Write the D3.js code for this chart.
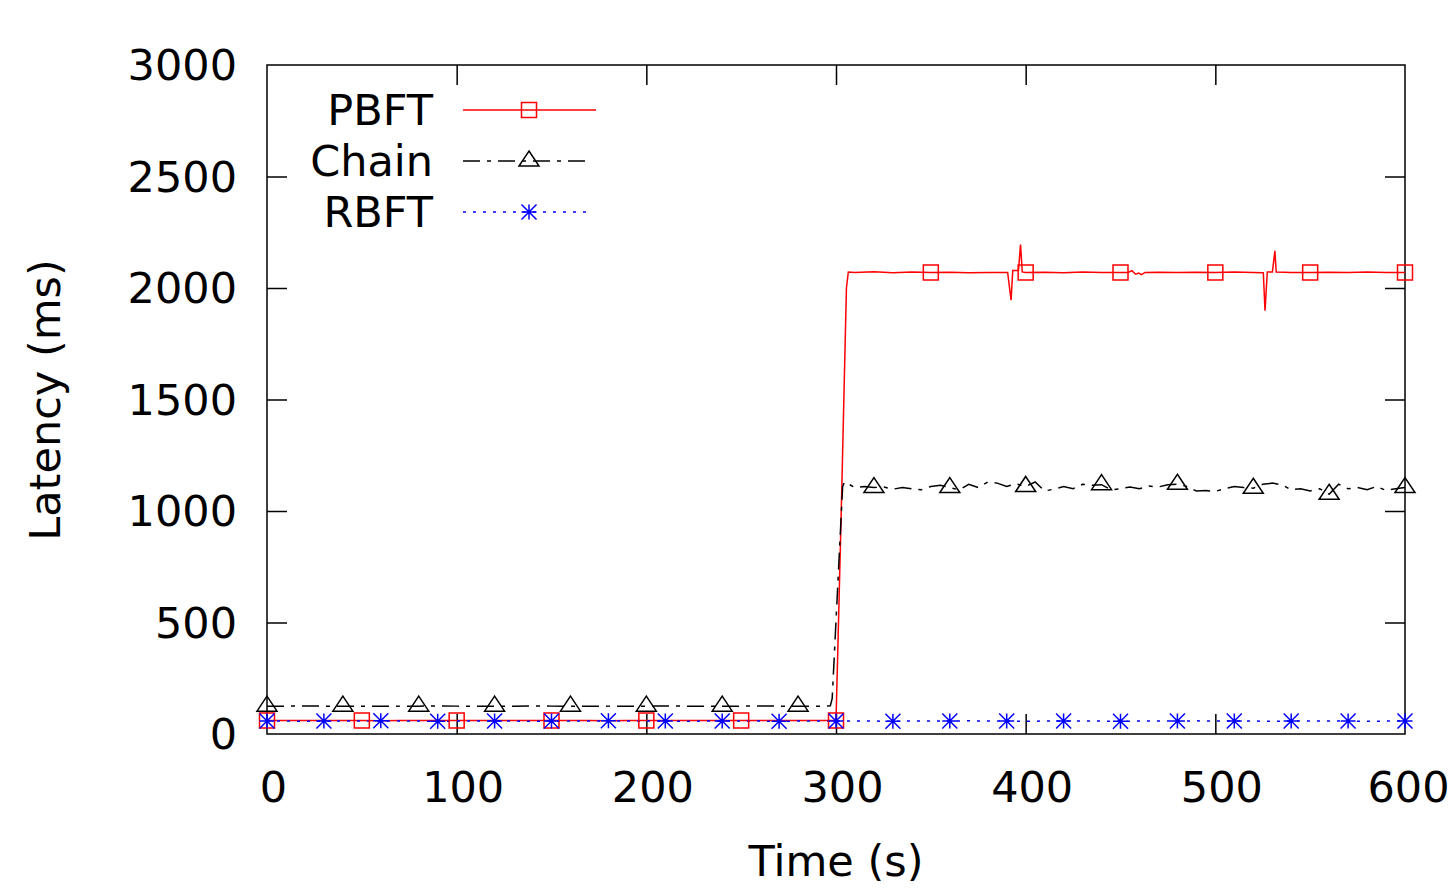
<!DOCTYPE html>
<html>
<head>
<meta charset="utf-8">
<script src="https://cdn.jsdelivr.net/npm/d3@7"></script>
<style>
  html, body { margin: 0; padding: 0; background: #fff; }
  svg { display: block; }
  text { font-family: "DejaVu Sans", sans-serif; fill: #000; }
</style>
</head>
<body>
<svg id="chart" width="1451" height="891"></svg>
<script>
// ---------------- data ----------------
const seriesNames = ["PBFT", "Chain", "RBFT"];
const xTicks = [0, 100, 200, 300, 400, 500, 600];
const yTicks = [0, 500, 1000, 1500, 2000, 2500, 3000];

const pbftTime = [0,10,20,30,40,50,60,70,80,90,100,110,120,130,140,150,160,170,180,190,200,210,220,230,240,250,260,270,280,290,300,
  301,303,305.5,306.5,310,320,330,340,350,360,370,380,390.5,392.3,393.2,396.2,397.3,398.2,400,410,420,430,440,450,454,456,458,459.5,461,463,
  470,480,490,500,510,520,525.3,526.2,527.4,530.1,531.4,532.1,540,550,560,570,580,590,600];
const pbftLatency = [60,60,61,60,60,60,59,60,60,61,60,60,60,60,61,60,60,60,59,60,60,60,61,60,60,60,60,61,60,60,60,
  390,1080,2000,2072,2070,2073,2068,2072,2070,2071,2068,2070,2070,1945,2078,2078,2195,2072,2070,2071,2068,2072,2070,2070,2070,2078,2062,2067,2060,2070,
  2071,2069,2071,2070,2072,2069,2068,1898,2072,2072,2167,2072,2070,2070,2071,2070,2072,2070,2070];

const chainTime = [0,10,20,30,40,50,60,70,80,90,100,110,120,130,140,150,160,170,180,190,200,210,220,230,240,250,260,270,280,290,295,297,298,
  303.5,304.5,305,310,315,320,325,330,335,340,345,350,355,360,365,370,375,380,385,390,395,400,405,410,415,420,425,430,435,440,445,450,
  455,460,465,470,475,480,485,490,495,500,505,510,515,520,525,530,535,540,545,550,555,560,565,570,575,580,585,590,595,600];
const chainLatency = [125,125,126,125,125,125,124,125,125,126,125,125,125,125,126,125,125,124,125,125,125,126,125,125,125,125,126,125,125,125,125,126,160,
  1110,1130,1128,1105,1110,1105,1108,1098,1105,1100,1095,1110,1115,1105,1095,1120,1105,1130,1125,1110,1122,1110,1130,1090,1098,1110,1100,1120,1115,1118,1095,1100,
  1108,1100,1112,1108,1118,1120,1110,1090,1092,1088,1100,1110,1105,1102,1120,1125,1118,1095,1100,1090,1100,1075,1120,1100,1105,1095,1110,1092,1100,1105];

const rbftTime = [0,10,20,30,40,50,60,70,80,90,100,110,120,130,140,150,160,170,180,190,200,210,220,230,240,250,260,270,280,290,300,
  310,320,330,340,350,360,370,380,390,400,410,420,430,440,450,460,470,480,490,500,510,520,530,540,550,560,570,580,590,600];
const rbftLatency = [58,58,57,58,58,58,59,58,58,57,58,58,58,58,57,58,58,58,59,58,58,58,57,58,58,58,58,57,58,58,58,
  58,58,57,58,58,58,59,58,58,57,58,58,58,58,57,58,58,58,59,58,58,58,57,58,58,58,58,57,58,58];

// ---------------- layout ----------------
const svg = d3.select("#chart");
const L = 267, R = 1405, T = 65, B = 734;
const x = d3.scaleLinear().domain([0, 600]).range([L, R]);
const y = d3.scaleLinear().domain([0, 3000]).range([B, T]);
const FS = 43;

// marker shapes (gnuplot-like)
const H = 7.5;
function markerPath(kind) {
  if (kind === "square") return `M${-H},${-H}H${H}V${H}H${-H}Z`;
  if (kind === "triangle") { const w = 4*H/3; return `M0,${-4*H/3}L${w},${2*H/3}L${-w},${2*H/3}Z`; }
  if (kind === "star") return `M${-H},0H${H}M0,${-H}V${H}M${-H},${-H}L${H},${H}M${-H},${H}L${H},${-H}`;
}

const series = [
  { name: seriesNames[0], t: pbftTime, v: pbftLatency, color: "#ff0000", dash: null, marker: "square", every: 50, legendEnd: 596 },
  { name: seriesNames[1], t: chainTime, v: chainLatency, color: "#000000", dash: "17,7,4,7", marker: "triangle", every: 40, legendEnd: 592 },
  { name: seriesNames[2], t: rbftTime, v: rbftLatency, color: "#0000ff", dash: "3,7", marker: "star", every: 30, legendEnd: 592 }
];

svg.append("clipPath").attr("id", "plotclip").append("rect")
  .attr("x", L).attr("y", T).attr("width", R - L).attr("height", B - T);

// ticks (inward, mirrored)
const tickLen = 20;
const axisG = svg.append("g");
const xAxisB = d3.axisBottom(x).tickValues(xTicks).tickSize(-tickLen).tickFormat(d => d).tickPadding(38);
const xAxisT = d3.axisTop(x).tickValues(xTicks.slice(1, -1)).tickSize(-tickLen).tickFormat("");
const yAxisL = d3.axisLeft(y).tickValues(yTicks).tickSize(-tickLen).tickFormat(d => d).tickPadding(30);
const yAxisR = d3.axisRight(y).tickValues(yTicks.slice(1, -1)).tickSize(-tickLen).tickFormat("");

function styleAxis(g) {
  g.select(".domain").remove();
  g.selectAll(".tick line").attr("stroke", "#000").attr("stroke-width", 1.5);
  g.selectAll("text").style("font-family", '"DejaVu Sans", sans-serif').style("font-size", FS + "px").attr("fill", "#000");
}
const gxb = axisG.append("g").attr("transform", `translate(0,${B})`).call(xAxisB).call(styleAxis);
gxb.selectAll(".tick").filter(d => d === 0 || d === 600).select("line").remove();
gxb.selectAll("text").attr("dy", null).attr("y", 68).attr("x", d => d === 600 ? 3 : 6);
axisG.append("g").attr("transform", `translate(0,${T})`).call(xAxisT).call(styleAxis);
const gyl = axisG.append("g").attr("transform", `translate(${L},0)`).call(yAxisL).call(styleAxis);
gyl.selectAll(".tick").filter(d => d === 0 || d === 3000).select("line").remove();
gyl.selectAll("text").attr("dy", "0.34em").attr("x", -30);
axisG.append("g").attr("transform", `translate(${R},0)`).call(yAxisR).call(styleAxis);

// border
svg.append("rect").attr("x", L).attr("y", T).attr("width", R - L).attr("height", B - T)
  .attr("fill", "none").attr("stroke", "#000").attr("stroke-width", 1.5);

// lines & markers
const plot = svg.append("g").attr("clip-path", "url(#plotclip)");
const line = d3.line().x(d => x(d[0])).y(d => y(d[1]));
series.forEach(s => {
  const pts = s.t.map((t, i) => [t, s.v[i]]);
  plot.append("path").datum(pts).attr("d", line)
    .attr("fill", "none").attr("stroke", s.color).attr("stroke-width", 1.5)
    .attr("stroke-dasharray", s.dash);
  const mk = pts.filter(p => p[0] % s.every === 0);
  svg.append("g").selectAll("path").data(mk).join("path")
    .attr("transform", p => `translate(${x(p[0])},${y(p[1])})`)
    .attr("d", markerPath(s.marker))
    .attr("fill", "none").attr("stroke", s.color).attr("stroke-width", 1.5);
});

// legend
const legY = [110, 161, 212];
series.forEach((s, i) => {
  svg.append("text").attr("x", 433).attr("y", legY[i]).attr("dy", "0.36em")
    .attr("text-anchor", "end").style("font-size", FS + "px").text(s.name);
  svg.append("line").attr("x1", 463).attr("x2", s.legendEnd).attr("y1", legY[i]).attr("y2", legY[i])
    .attr("stroke", s.color).attr("stroke-width", 1.5).attr("stroke-dasharray", s.dash);
  svg.append("path").attr("transform", `translate(529,${legY[i]})`).attr("d", markerPath(s.marker))
    .attr("fill", "none").attr("stroke", s.color).attr("stroke-width", 1.5);
});

// axis titles
svg.append("text").attr("x", 836).attr("y", 876).attr("text-anchor", "middle")
  .style("font-size", FS + "px").text("Time (s)");
svg.append("text").attr("transform", "translate(60,400) rotate(-90)").attr("text-anchor", "middle")
  .style("font-size", FS + "px").text("Latency (ms)");
</script>
</body>
</html>
